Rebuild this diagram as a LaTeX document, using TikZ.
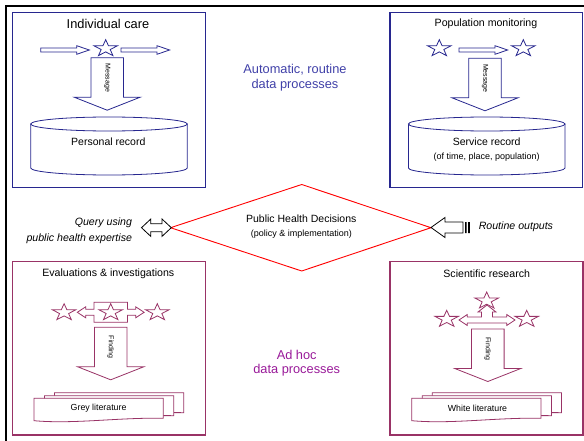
\documentclass[tikz,border=0pt]{standalone}
\usepackage{fontspec}
\setmainfont{Liberation Sans}
\definecolor{routine}{HTML}{27278F}
\definecolor{routinetx}{HTML}{4040A8}
\definecolor{adhoc}{HTML}{993366}
\definecolor{adhoctx}{HTML}{991A99}
\definecolor{decision}{HTML}{FF0000}
\tikzset{fig/.style={line join=miter},
  panel/.style={line width=1.1pt},
  shp/.style={line width=0.8pt,fill=white},
  bigttl/.style={font=\fontsize{12.8}{15}\selectfont},
  ttl/.style={font=\fontsize{10.6}{13}\selectfont},
  rec/.style={font=\fontsize{10.5}{12.6}\selectfont},
  sub/.style={font=\fontsize{9}{11}\selectfont},
  doctx/.style={font=\fontsize{8.8}{10}\selectfont},
  mid/.style={font=\fontsize{12.8}{14.5}\selectfont,align=center},
  side/.style={font=\fontsize{10.6}{16}\selectfont\itshape,inner sep=0pt},
  pstar/.pic={\draw[shp,xscale=1.4](-90:8.8)\foreach\n in{0,...,4}{--(-54+72*\n:3.4)--(-18+72*\n:8.8)}--cycle;},
  flatarr/.pic={\draw[shp](0,-2)--(36,-2)--(36,-4.3)--(48.6,0)--(36,4.3)--(36,2)--(0,2)--cycle;},
  bigdown/.pic={\draw[shp](-16.3,0)--(16.3,0)--(16.3,39.5)--(33,39.5)--(0,52.5)--(-33,39.5)--(-16.3,39.5)--cycle;
    \node[rotate=-90,text=black,font=\fontsize{7}{8}\selectfont](lbl)at(0,20){#1};},
  drum/.pic={\draw[shp](-78.3,0)--(-78.3,44)arc[start angle=180,end angle=0,x radius=78.3,y radius=7]--(78.3,0);
    \draw[shp](0,0)ellipse[x radius=78.3,y radius=7];},
  docs/.pic={\foreach\dx/\dy in{20.5/-5.6,10.5/-2.6,0/0}
    \draw[shp,shift={(\dx,\dy)}](0,0)--(129.3,0)--(129.3,20)..controls(85,19)and(40,26)..(0,22.4)--cycle;}}
\begin{document}
\begin{tikzpicture}[fig,x=1pt,y=-1pt]
  \useasboundingbox(0,0)rectangle(584,441);
  \draw[line width=2.4pt](6,441)--(6,6)--(584,6);
  % routine side
  \draw[routine,panel](12.3,12.3)rectangle(205.6,187.6);
  \node[bigttl](care)at(108,24){Individual care};
  \pic[routine]at(40.7,50){flatarr};\pic[routine]at(121,50){flatarr};
  \pic[routine]at(105.7,48.5){pstar};
  \pic[routine](msgA)at(107.2,57.7){bigdown=Message};
  \pic[routine]at(109,124){drum};\node[rec](pers)at(108.3,141.7){Personal record};
  \draw[routine,panel](390,12.3)rectangle(582.7,187.6);
  \node[ttl](pop)at(486,24){Population monitoring};
  \pic[routine]at(459,50){flatarr};
  \pic[routine]at(439.3,48.5){pstar};\pic[routine]at(523.3,48.5){pstar};
  \pic[routine](msgB)at(485,58.3){bigdown=Message};
  \pic[routine]at(486.7,124){drum};\node[rec](serv)at(486.7,141.7){Service record};
  \node[sub](servsub)at(486.7,156.7){(of time, place, population)};
  \node[mid,routinetx](auto)at(295,77.8){Automatic, routine\\data processes};
  % decisions
  \draw[decision,line width=0.9pt](170.6,227.7)--(301.7,184.5)--(431,227.7)--(301.7,271)--cycle;
  \node[rec](phd)at(301.3,218.4){Public Health Decisions};
  \node[sub](pol)at(301.3,234){(policy \& implementation)};
  \draw[shp](141.5,227.7)--(150.8,219)--(150.8,223.7)--(162,223.7)--(162,219)--(171.3,227.7)--(162,236.4)--(162,231.7)--(150.8,231.7)--(150.8,236.4)--cycle;
  \node[side,anchor=east,align=right](query)at(132.2,230.8){Query using\\public health expertise};
  \draw[shp](431,227.5)--(445,217.5)--(445,222)--(463,222)--(463,233)--(445,233)--(445,237.5)--cycle;
  \fill(465,222)rectangle(466.5,233)(468,222)rectangle(469.8,233);
  \node[side,anchor=west](rout)at(478.6,226.5){Routine outputs};
  % ad hoc side
  \draw[adhoc,panel](12.3,261.5)rectangle(205.6,435);
  \node[ttl](eval)at(108.3,274){Evaluations \& investigations};
  \draw[adhoc,shp,shift={(110.7,312.3)}](-16.7,-10)--(16.7,-10)--(16.7,-3)--(25,-3)--(25,-5.5)--(33.4,0)--(25,5.5)--(25,3)--(16.7,3)--(16.7,10)--(-16.7,10)--(-16.7,3)--(-25,3)--(-25,5.5)--(-33.4,0)--(-25,-5.5)--(-25,-3)--(-16.7,-3)--cycle;
  \foreach\sx in{64.1,110.7,157.3}\pic[adhoc]at(\sx,312.5){pstar};
  \pic[adhoc](finA)at(110.7,327.3){bigdown=Finding};
  \pic[adhoc]at(34,398.3){docs};\node[doctx](grey)at(98.6,408.5){Grey literature};
  \draw[adhoc,panel](390,261.5)rectangle(583,435);
  \node[ttl](sci)at(486.7,274){Scientific research};
  \draw[adhoc,shp,shift={(487,320)}](-19.7,-3)--(-5.5,-3)--(-5.5,-8)--(-9,-8)--(0,-15)--(9,-8)--(5.5,-8)--(5.5,-3)--(19.7,-3)--(19.7,-5.5)--(28,0)--(19.7,5.5)--(19.7,3)--(-19.7,3)--(-19.7,5.5)--(-28,0)--(-19.7,-5.5)--cycle;
  \pic[adhoc]at(486.7,300.8){pstar};
  \pic[adhoc]at(446.7,319.1){pstar};\pic[adhoc]at(526.7,319.1){pstar};
  \pic[adhoc](finB)at(487.8,329){bigdown=Finding};
  \pic[adhoc]at(411.7,398.3){docs};\node[doctx](white)at(477.5,408.5){White literature};
  \node[mid,adhoctx](adhc)at(296.7,363.3){Ad hoc\\data processes};
\end{tikzpicture}
\end{document}
